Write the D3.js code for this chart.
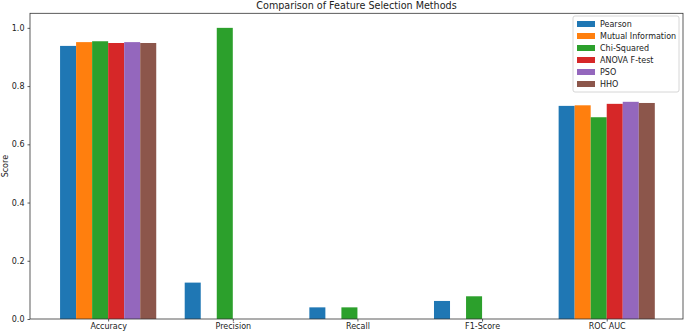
<!DOCTYPE html>
<html><head><meta charset="utf-8">
<script src="https://cdn.jsdelivr.net/npm/d3@7"></script>
<style>body{margin:0;background:#fff}svg{display:block}text{font-family:"DejaVu Sans",sans-serif}</style>
</head><body>
<script>
const categories = ["Accuracy","Precision","Recall","F1-Score","ROC AUC"];
const methods = ["Pearson","Mutual Information","Chi-Squared","ANOVA F-test","PSO","HHO"];
const pearson = [0.938,0.125,0.040,0.062,0.732];
const mutualInfo = [0.951,0,0,0,0.734];
const chiSquared = [0.954,1.0,0.040,0.078,0.693];
const anova = [0.948,0,0,0,0.739];
const pso = [0.951,0,0,0,0.746];
const hho = [0.948,0,0,0,0.742];
const yTicks = [0,0.2,0.4,0.6,0.8,1.0];
const colors = ["#1f77b4","#ff7f0e","#2ca02c","#d62728","#9467bd","#8c564b"];
const series = [pearson,mutualInfo,chiSquared,anova,pso,hho];

const W=685,H=334;
const m={l:30,r:2,t:13.3,b:15};
const svg=d3.select("body").append("svg").attr("width",W).attr("height",H);
const barW=0.1286;
const x=d3.scaleLinear().domain([-0.627,4.612]).range([m.l,W-m.r]);
const y=d3.scaleLinear().domain([0,1.05]).range([H-m.b,m.t]);

const g=svg.append("g");
series.forEach((s,si)=>{
  g.selectAll(null).data(s).enter().append("rect")
    .attr("x",(d,i)=>x(i+(si-3)*barW))
    .attr("width",x(barW)-x(0))
    .attr("y",d=>y(d))
    .attr("height",d=>y(0)-y(d))
    .attr("fill",colors[si]);
});

const ya=svg.append("g").attr("transform",`translate(${m.l},0)`)
  .call(d3.axisLeft(y).tickValues(yTicks).tickFormat(d3.format(".1f")).tickSize(2.5).tickPadding(3));
const xa=svg.append("g").attr("transform",`translate(0,${H-m.b})`)
  .call(d3.axisBottom(x).tickValues(d3.range(categories.length)).tickFormat(i=>categories[i]).tickSize(2.5).tickPadding(2));
[ya,xa].forEach(a=>{a.select(".domain").remove();a.selectAll("line").attr("stroke","#333").attr("stroke-width",0.8);
  a.selectAll("text").attr("font-size",8).attr("fill","#222").attr("font-family","DejaVu Sans");});

svg.append("rect").attr("x",m.l).attr("y",m.t).attr("width",W-m.r-m.l).attr("height",H-m.b-m.t)
  .attr("fill","none").attr("stroke","#333").attr("stroke-width",0.8);

svg.append("text").attr("x",(m.l+W-m.r)/2).attr("y",9).attr("text-anchor","middle")
  .attr("font-size",9.6).attr("fill","#222").text("Comparison of Feature Selection Methods");
svg.append("text").attr("transform",`translate(8,${(m.t+H-m.b)/2}) rotate(-90)`).attr("text-anchor","middle")
  .attr("font-size",8).attr("fill","#222").text("Score");

const lg=svg.append("g").attr("transform","translate(573,16)");
lg.append("rect").attr("width",106).attr("height",76).attr("rx",2).attr("fill","#fff").attr("fill-opacity",0.8)
  .attr("stroke","#ccc").attr("stroke-width",0.8);
methods.forEach((mm,i)=>{
  lg.append("rect").attr("x",4).attr("y",5+i*12).attr("width",18).attr("height",6).attr("fill",colors[i]);
  lg.append("text").attr("x",27).attr("y",11+i*12).attr("font-size",8).attr("fill","#222").text(mm);
});
</script>
</body></html>
